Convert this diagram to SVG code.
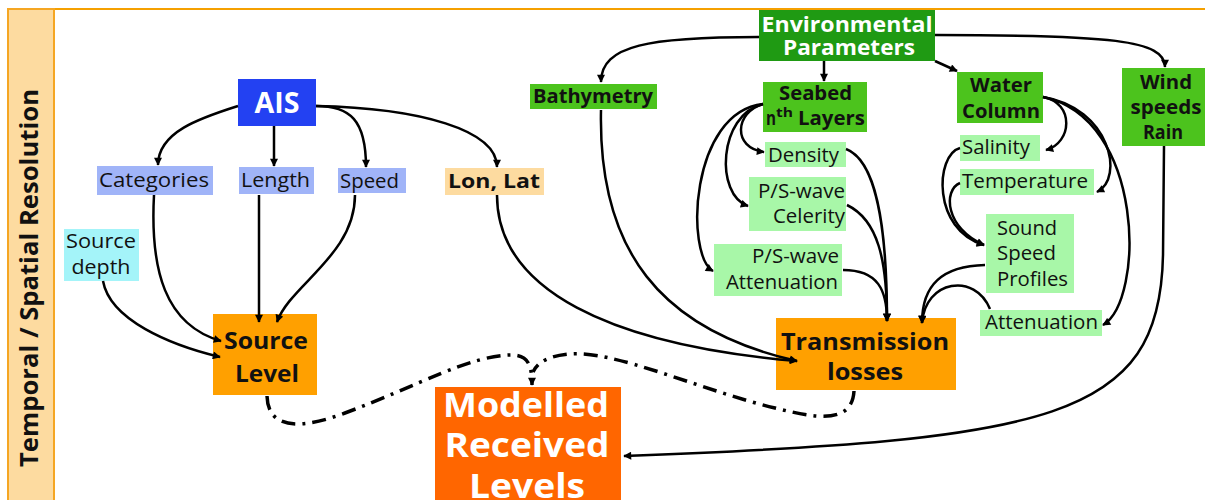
<svg xmlns="http://www.w3.org/2000/svg" width="1205" height="500" viewBox="0 0 1205 500">
<style>
.t{font-family:"Open Sans","Noto Sans","DejaVu Sans",sans-serif;font-size:20px;fill:#111}
.b{font-weight:bold}
.w{fill:#fff}
.s13{font-size:13px}
.s22{font-size:22px}
.s24{font-size:24px}
.s25{font-size:25px}
.s28{font-size:28px}
.s33{font-size:34px}
.e{fill:none;stroke:#000;stroke-width:2.5;marker-end:url(#ah)}
.dd{fill:none;stroke:#000;stroke-width:3.5;stroke-dasharray:14 7 3 7}
.lb{fill:#a0b4f8}
.lg{fill:#a8f7a8}
.g{fill:#4cc31d}
.o{fill:#ffa000}
</style>
<defs>
<marker id="ah" viewBox="0 0 10 10" refX="9" refY="5" markerWidth="9" markerHeight="8" markerUnits="userSpaceOnUse" orient="auto"><path d="M0,0 L10,5 L0,10 z" fill="#000"/></marker>
</defs>
<rect width="1205" height="500" fill="#fff"/>
<g id="frame">
<rect x="8" y="9" width="1210" height="510" fill="none" stroke="#f5a000" stroke-width="2"/>
<rect x="8" y="9" width="46" height="510" fill="#fddba0" stroke="#f5a623" stroke-width="2"/>
<text class="t b s25" transform="translate(38,278) rotate(-90)" text-anchor="middle" textLength="378" lengthAdjust="spacingAndGlyphs">Temporal / Spatial Resolution</text>
</g>
<g id="ais">
<rect x="238" y="79" width="78" height="47" fill="#2341f2"/>
<text class="t b w s28" x="277" y="113" text-anchor="middle" textLength="45" lengthAdjust="spacingAndGlyphs">AIS</text>
</g>
<g id="categories">
<rect x="97" y="166" width="116" height="29" class="lb"/>
<text class="t" x="154" y="187" text-anchor="middle" textLength="110" lengthAdjust="spacingAndGlyphs">Categories</text>
</g>
<g id="length">
<rect x="239" y="167" width="75" height="27" class="lb"/>
<text class="t" x="275.5" y="187" text-anchor="middle" textLength="69" lengthAdjust="spacingAndGlyphs">Length</text>
</g>
<g id="speed">
<rect x="338" y="168" width="68" height="25" class="lb"/>
<text class="t" x="369.5" y="188" text-anchor="middle" textLength="59" lengthAdjust="spacingAndGlyphs">Speed</text>
</g>
<g id="lonlat">
<rect x="445" y="168" width="99" height="27" fill="#fddba0"/>
<text class="t b" x="494" y="188" text-anchor="middle" textLength="92" lengthAdjust="spacingAndGlyphs">Lon, Lat</text>
</g>
<g id="sourcedepth">
<rect x="64" y="229" width="75" height="52" fill="#a4f4f9"/>
<text class="t" x="101" y="248" text-anchor="middle" textLength="70" lengthAdjust="spacingAndGlyphs">Source</text>
<text class="t" x="101" y="274" text-anchor="middle" textLength="59" lengthAdjust="spacingAndGlyphs">depth</text>
</g>
<g id="sourcelevel">
<rect x="213" y="314" width="104" height="81" class="o"/>
<text class="t b s24" x="266" y="349" text-anchor="middle" textLength="84" lengthAdjust="spacingAndGlyphs">Source</text>
<text class="t b s24" x="267" y="382" text-anchor="middle" textLength="64" lengthAdjust="spacingAndGlyphs">Level</text>
</g>
<g id="bathymetry">
<rect x="530" y="84" width="127" height="25" class="g"/>
<text class="t b" x="593" y="103" text-anchor="middle" textLength="120" lengthAdjust="spacingAndGlyphs">Bathymetry</text>
</g>
<g id="environmental">
<rect x="759" y="10" width="176" height="51" fill="#1f9a13"/>
<text class="t b w s22" x="847" y="32" text-anchor="middle" textLength="171" lengthAdjust="spacingAndGlyphs">Environmental</text>
<text class="t b w s22" x="849" y="55" text-anchor="middle" textLength="132" lengthAdjust="spacingAndGlyphs">Parameters</text>
</g>
<g id="seabed">
<rect x="763" y="82" width="104" height="50" class="g"/>
<text class="t b" x="815.5" y="100" text-anchor="middle" textLength="73" lengthAdjust="spacingAndGlyphs">Seabed</text>
<text class="t b" x="766" y="125" textLength="10" lengthAdjust="spacingAndGlyphs">n</text>
<text class="t b s13" x="776" y="117" textLength="17" lengthAdjust="spacingAndGlyphs">th</text>
<text class="t b" x="798" y="125" textLength="67" lengthAdjust="spacingAndGlyphs">Layers</text>
</g>
<g id="density">
<rect x="765" y="142" width="81" height="25" class="lg"/>
<text class="t" x="803.5" y="162" text-anchor="middle" textLength="71" lengthAdjust="spacingAndGlyphs">Density</text>
</g>
<g id="celerity">
<rect x="749" y="177" width="97" height="54" class="lg"/>
<text class="t" x="845" y="198" text-anchor="end" textLength="87" lengthAdjust="spacingAndGlyphs">P/S-wave</text>
<text class="t" x="845" y="223" text-anchor="end" textLength="72" lengthAdjust="spacingAndGlyphs">Celerity</text>
</g>
<g id="psattenuation">
<rect x="714" y="244" width="128" height="52" class="lg"/>
<text class="t" x="839" y="263" text-anchor="end" textLength="87" lengthAdjust="spacingAndGlyphs">P/S-wave</text>
<text class="t" x="838" y="289" text-anchor="end" textLength="112" lengthAdjust="spacingAndGlyphs">Attenuation</text>
</g>
<g id="watercolumn">
<rect x="957" y="72" width="86" height="51" class="g"/>
<text class="t b" x="1001" y="92" text-anchor="middle" textLength="62" lengthAdjust="spacingAndGlyphs">Water</text>
<text class="t b" x="1001" y="118" text-anchor="middle" textLength="78" lengthAdjust="spacingAndGlyphs">Column</text>
</g>
<g id="wind">
<rect x="1122" y="68" width="85" height="78" class="g"/>
<text class="t b" x="1166" y="89" text-anchor="middle" textLength="52" lengthAdjust="spacingAndGlyphs">Wind</text>
<text class="t b" x="1166" y="114" text-anchor="middle" textLength="71" lengthAdjust="spacingAndGlyphs">speeds</text>
<text class="t b" x="1163" y="139" text-anchor="middle" textLength="40" lengthAdjust="spacingAndGlyphs">Rain</text>
</g>
<g id="salinity">
<rect x="960" y="135" width="80" height="26" class="lg"/>
<text class="t" x="962" y="154" textLength="68" lengthAdjust="spacingAndGlyphs">Salinity</text>
</g>
<g id="temperature">
<rect x="960" y="169" width="134" height="26" class="lg"/>
<text class="t" x="962" y="188" textLength="126" lengthAdjust="spacingAndGlyphs">Temperature</text>
</g>
<g id="ssp">
<rect x="986" y="214" width="88" height="79" class="lg"/>
<text class="t" x="997" y="235" textLength="60" lengthAdjust="spacingAndGlyphs">Sound</text>
<text class="t" x="997" y="260" textLength="59" lengthAdjust="spacingAndGlyphs">Speed</text>
<text class="t" x="997" y="286" textLength="71" lengthAdjust="spacingAndGlyphs">Profiles</text>
</g>
<g id="attenuation">
<rect x="980" y="310" width="122" height="26" class="lg"/>
<text class="t" x="985" y="329" textLength="113" lengthAdjust="spacingAndGlyphs">Attenuation</text>
</g>
<g id="transmission">
<rect x="776" y="318" width="180" height="72" class="o"/>
<text class="t b s24" x="865" y="350" text-anchor="middle" textLength="168" lengthAdjust="spacingAndGlyphs">Transmission</text>
<text class="t b s24" x="865" y="380" text-anchor="middle" textLength="76" lengthAdjust="spacingAndGlyphs">losses</text>
</g>
<g id="modelled">
<rect x="435" y="387" width="186" height="125" fill="#ff6600"/>
<text class="t b w s33" x="526" y="417" text-anchor="middle" textLength="166" lengthAdjust="spacingAndGlyphs">Modelled</text>
<text class="t b w s33" x="527" y="457" text-anchor="middle" textLength="165" lengthAdjust="spacingAndGlyphs">Received</text>
<text class="t b w s33" x="527" y="498" text-anchor="middle" textLength="116" lengthAdjust="spacingAndGlyphs">Levels</text>
</g>
<g id="connectors">
<path class="e" d="M238,106 C200,118 158,132 158,165"/>
<path class="e" d="M274,126 L274,166"/>
<path class="e" d="M316,106 C350,106 366,120 366,167"/>
<path class="e" d="M316,106 C420,108 497,130 497,167"/>
<path class="e" d="M154,195 C150,270 165,325 221,341"/>
<path class="e" d="M103,281 C110,320 170,345 220,357"/>
<path class="e" d="M259,195 L259,322"/>
<path class="e" d="M355,195 C355,255 290,285 277,322"/>
<path class="e" d="M497,195 C497,290 610,345 797,361"/>
<path class="e" d="M601,110 C598,250 660,330 797,361"/>
<path class="e" d="M759,37 C650,37 601,45 601,82"/>
<path class="e" d="M824,61 L824,81"/>
<path class="e" d="M935,61 L957,71"/>
<path class="e" d="M935,35 C1110,35 1165,40 1165,67"/>
<path class="e" d="M763,104 C735,112 732,148 764,152"/>
<path class="e" d="M763,104 C718,115 715,195 748,206"/>
<path class="e" d="M763,104 C690,112 685,255 713,271"/>
<path class="e" d="M846,149 C875,160 887,220 887,321"/>
<path class="e" d="M847,205 C878,220 887,260 887,321"/>
<path class="e" d="M843,270 C878,270 887,290 887,321"/>
<path class="e" d="M985,265 C942,266 922,285 922,323"/>
<path class="e" d="M990,309 C975,272 925,280 922,323"/>
<path class="e" d="M1043,97 C1075,103 1072,143 1046,150"/>
<path class="e" d="M1043,97 C1110,108 1125,178 1097,192"/>
<path class="e" d="M1043,97 C1145,118 1145,300 1103,325"/>
<path class="e" d="M960,148 C935,155 932,230 984,245"/>
<path class="e" d="M960,183 C943,190 945,228 984,245"/>
<path class="e" d="M1164,146 L1163,255 C1160,420 1050,440 624,456"/>
<path class="dd" d="M267,396 C268,432 305,428 345,413 C420,385 470,355 512,355 C528,355 532,365 532,385" marker-end="url(#ah)"/>
<path class="dd" d="M854,391 C852,425 815,418 775,408 C700,390 615,350 570,354 C548,356 538,362 533,372"/>
</g>
</svg>
